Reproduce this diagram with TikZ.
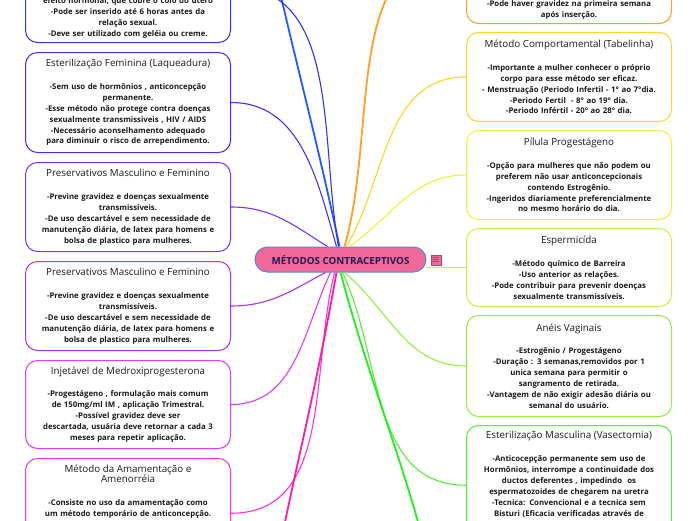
\documentclass[tikz,border=0pt]{standalone}
\usepackage{fontspec}
\setmainfont{Open Sans}
\usepackage{xcolor}
\usepackage{tikz}
\usetikzlibrary{positioning}
\definecolor{hubpink}{HTML}{F0699A}
\definecolor{hubblue}{HTML}{4A8FD0}
\definecolor{hubtext}{HTML}{1E1E4E}
\definecolor{inktext}{HTML}{1A1A1A}
\definecolor{colFarL}{HTML}{1F5BFF}
\definecolor{colTopL}{HTML}{3434EE}
\definecolor{colLaq}{HTML}{4A2EF5}
\definecolor{colPresA}{HTML}{7B33FF}
\definecolor{colPresB}{HTML}{A534FF}
\definecolor{colInj}{HTML}{DD3CFF}
\definecolor{colAmam}{HTML}{FF33E0}
\definecolor{colBotL}{HTML}{FF1AAA}
\definecolor{colTopR}{HTML}{FFA126}
\definecolor{colTab}{HTML}{FFD426}
\definecolor{colPil}{HTML}{EEF23A}
\definecolor{colEsp}{HTML}{C6F53C}
\definecolor{colAnel}{HTML}{8EF23E}
\definecolor{colVas}{HTML}{55EE3A}
\definecolor{colBotR}{HTML}{22EE22}

\newcommand{\boxtitle}[1]{{\fontsize{9.8}{12}\selectfont\mdseries #1}}

\tikzset{
  topic/.style={draw, line width=1pt, rounded corners=12pt, fill=white,
    text width=197pt, inner xsep=4pt, inner ysep=6pt, align=center,
    text=inktext, font=\fontsize{7.8}{10.9}\selectfont\bfseries},
  hub/.style={draw=hubblue, fill=hubpink, line width=1pt, rounded corners=12.5pt,
    minimum width=171pt, minimum height=25pt, text=hubtext,
    font=\fontsize{9.8}{12}\selectfont\bfseries},
  branch/.style={line width=1.1pt},
  farbranch/.style={line width=1.8pt}
}

\begin{document}
\begin{tikzpicture}[x=1pt, y=1pt]
  \useasboundingbox (0,-520) rectangle (696,0);
  \clip (0,-520) rectangle (696,0);

  % central topic
  \node[hub] (root) at (340.5,-259.5) {MÉTODOS CONTRACEPTIVOS};

  % left column
  \node[topic, draw=colLaq, minimum height=100pt, anchor=north west] (laq) at (25,-52) {%
    \boxtitle{Esterilização Feminina (Laqueadura)}\\[12pt]
    -Sem uso de hormônios , anticoncepção\\
    permanente.\\
    -Esse método não protege contra doenças\\
    sexualmente transmissiveis , HIV / AIDS\\
    -Necessário aconselhamento adequado\\
    para diminuir o risco de arrependimento.};
  \node[topic, draw=colTopL, text height=70pt, inner ysep=4pt, above=9pt of laq] (topl) {%
    efeito hormonal, que cobre o colo do útero\\
    -Pode ser inserido até 6 horas antes da\\
    relação sexual.\\
    -Deve ser utilizado com geléia ou creme.};
  \node[topic, draw=colPresA, minimum height=89pt, below=9pt of laq] (presa) {%
    \boxtitle{Preservativos Masculino e Feminino}\\[12pt]
    -Previne gravidez e doenças sexualmente\\
    transmissíveis.\\
    -De uso descartável e sem necessidade de\\
    manutenção diária, de latex para homens e\\
    bolsa de plastico para mulheres.};
  \node[topic, draw=colPresB, minimum height=89pt, below=9pt of presa] (presb) {%
    \boxtitle{Preservativos Masculino e Feminino}\\[12pt]
    -Previne gravidez e doenças sexualmente\\
    transmissíveis.\\
    -De uso descartável e sem necessidade de\\
    manutenção diária, de latex para homens e\\
    bolsa de plastico para mulheres.};
  \node[topic, draw=colInj, minimum height=88pt, below=9pt of presb] (inj) {%
    \boxtitle{Injetável de Medroxiprogesterona}\\[12pt]
    -Progestágeno , formulação mais comum\\
    de 150mg/ml IM , aplicação Trimestral.\\
    -Possível gravidez deve ser\\
    descartada, usuária deve retornar a cada 3\\
    meses para repetir aplicação.};
  \node[topic, draw=colAmam, text depth=90pt, below=9pt of inj] (amam) {%
    \boxtitle{Método da Amamentação e\\Amenorréia}\\[12pt]
    -Consiste no uso da amamentação como\\
    um método temporário de anticoncepção.};

  % right column
  \node[topic, draw=colTab, minimum height=89pt, anchor=north west] (tab) at (466,-32) {%
    \boxtitle{Método Comportamental (Tabelinha)}\\[12pt]
    -Importante a mulher conhecer o próprio\\
    corpo para esse método ser eficaz.\\
    - Menstruação (Periodo Infertil - 1° ao 7°dia.\\
    -Periodo Fertil~ - 8° ao 19° dia.\\
    -Periodo Infértil - 20° ao 28° dia.};
  \node[topic, draw=colTopR, text height=130pt, inner ysep=4pt, above=8pt of tab] (topr) {%
    -Pode haver gravidez na primeira semana\\
    após inserção.};
  \node[topic, draw=colPil, minimum height=89pt, below=8pt of tab] (pil) {%
    \boxtitle{Pílula Progestágeno}\\[12pt]
    -Opção para mulheres que não podem ou\\
    preferem não usar anticoncepcionais\\
    contendo Estrogênio.\\
    -Ingeridos diariamente preferencialmente\\
    no mesmo horário do dia.};
  \node[topic, draw=colEsp, minimum height=78pt, below=8pt of pil] (esp) {%
    \boxtitle{Espermicída}\\[12pt]
    -Método químico de Barreira\\
    -Uso anterior as relações.\\
    -Pode contribuir para prevenir doenças\\
    sexualmente transmissíveis.};
  \node[topic, draw=colAnel, minimum height=101pt, below=8pt of esp] (anel) {%
    \boxtitle{Anéis Vaginais}\\[12pt]
    -Estrogênio / Progestágeno\\
    -Duração : 3 semanas,removidos por 1\\
    unica semana para permitir o\\
    sangramento de retirada.\\
    -Vantagem de não exigir adesão diária ou\\
    semanal do usuário.};
  \node[topic, draw=colVas, text depth=100pt, below=8pt of anel] (vas) {%
    \boxtitle{Esterilização Masculina (Vasectomia)}\\[12pt]
    -Anticocepção permanente sem uso de\\
    Hormônios, interrompe a continuidade dos\\
    ductos deferentes , impedindo~ os\\
    espermatozoides de chegarem na uretra\\
    -Tecnica: Convencional e a tecnica sem\\
    Bisturi (Eficacia verificadas através de};

  % branches leaving the picture
  \coordinate (farl) at (264,80);
  \coordinate (botl) at (262,-640);
  \coordinate (botr) at (445,-640);

  % connectors
  \draw[farbranch, colFarL] ([xshift=-1pt]root.north) to[out=102, in=-78] (farl);
  \draw[branch, colTopL] ([xshift=-2pt]root.north) to[out=100, in=0] (topl.east);
  \draw[branch, colLaq] ([xshift=-4pt]root.north) to[out=106, in=0] (laq.east);
  \draw[branch, colPresA] ([xshift=-13pt]root.north) to[out=148, in=0] (presa.east);
  \draw[branch, colPresB] ([xshift=-15pt]root.south) to[out=208, in=0] (presb.east);
  \draw[branch, colInj] ([xshift=-10pt]root.south) to[out=245, in=0] (inj.east);
  \draw[branch, colAmam] ([xshift=-6pt]root.south) to[out=256, in=0] (amam.east);
  \draw[farbranch, colBotL] ([xshift=-4pt]root.south) to[out=260, in=80] (botl);
  \draw[farbranch, colTopR] ([xshift=4pt]root.north) to[out=74, in=180] (topr.west);
  \draw[branch, colTab] ([xshift=6pt]root.north) to[out=60, in=180] (tab.west);
  \draw[branch, colPil] ([xshift=9pt]root.north) to[out=35, in=180] (pil.west);
  \draw[branch, colEsp] (root.east |- esp.west) -- (esp.west);
  \draw[branch, colAnel] ([xshift=4pt]root.south) to[out=-40, in=180] (anel.west);
  \draw[branch, colVas] ([xshift=2pt]root.south) to[out=-65, in=180] (vas.west);
  \draw[farbranch, colBotR] ([xshift=0pt]root.south) to[out=-75, in=100] (botr);

  % note marker beside the central topic
  \node[fill=hubpink, draw=hubpink!70!black, line width=0.5pt, minimum size=10pt,
        inner sep=0pt, right=4pt of root, yshift=-1pt, text=hubtext] (note) {$\equiv$};
\end{tikzpicture}
\end{document}
